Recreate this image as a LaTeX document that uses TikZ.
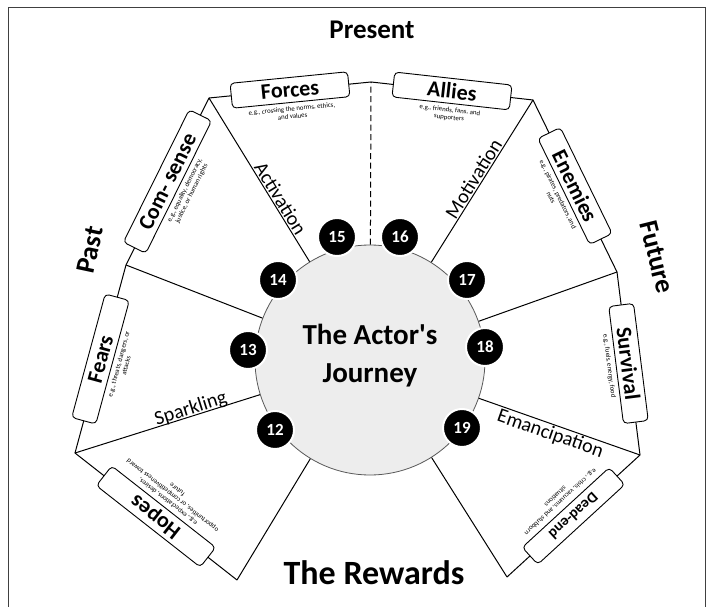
\documentclass[tikz,border=0pt]{standalone}
\usepackage{fontspec}
\setmainfont{Carlito}[Ligatures=TeXOff]
\usetikzlibrary{calc}
\begin{document}
\begin{tikzpicture}[x=1pt,y=1pt,
  edge/.style={line width=1pt, draw=black},
  labelbox/.style={draw=black, line width=0.9pt, fill=white, rounded corners=4pt,
    minimum width=118pt, minimum height=25pt, inner sep=2pt,
    font=\fontsize{22}{24}\selectfont\bfseries, sloped, allow upside down, pos=0.5},
  subtext/.style={anchor=north, outer ysep=16pt, inner sep=0.5pt, align=center,
    font=\fontsize{6.8}{7.6}\selectfont, sloped, allow upside down, pos=0.5},
  radlabel/.style={font=\fontsize{20}{22}\selectfont, sloped, inner sep=1.5pt, text depth=0pt},
  badge/.style={circle, fill=black, draw=white, line width=2pt, minimum size=38pt,
    inner sep=0pt, text=white, font=\fontsize{17}{17}\selectfont\bfseries},
  title/.style={font=\fontsize{27}{29}\selectfont\bfseries},
  frame/.style={draw=black!75, line width=1pt}
]
\useasboundingbox (0,0) rectangle (712,606);
\fill[white] (0,0) rectangle (712,606);
\draw[frame] (8,-5) -- (8,598) -- (705,598) -- (705,-5);

% geometry
\coordinate (C) at (370,246);
\coordinate (V0) at (371,524);
\coordinate (V1) at (533,506);
\coordinate (V2) at (617,334);
\coordinate (V3) at (640,151);
\coordinate (V4) at (507,29);
\coordinate (V5) at (237,26);
\coordinate (V6) at (75,153);
\coordinate (V7) at (126,341);
\coordinate (V8) at (209,508);

% hub
\node[circle, fill=black!7, draw=black!65, line width=0.8pt, minimum size=230pt] (hub) at (C) {};

% radial lines
\draw[edge] (hub) -- (V1);
\draw[edge] (hub) -- (V2);
\draw[edge] (hub) -- (V3);
\draw[edge] (hub) -- (V4);
\draw[edge] (hub) -- (V5);
\draw[edge] (hub) -- (V6);
\draw[edge] (hub) -- (V7);
\draw[edge] (hub) -- (V8);
\draw[edge, dash pattern=on 6pt off 3.5pt] (hub) -- (V0);

% outer edges
\draw[edge] (V8) -- (V0) -- (V1) -- (V2) -- (V3) -- (V4);
\draw[edge] (V5) -- (V6) -- (V7) -- (V8);

% boxes on edges
\path (V8) -- node[labelbox] (forces) {Forces} (V0);
\path (V0) -- node[labelbox] (allies) {Allies} (V1);
\path (V1) -- node[labelbox] (enemies) {Enemies} (V2);
\path (V2) -- node[labelbox] (survival) {Survival} (V3);
\path (V3) -- node[labelbox, minimum height=23pt, font=\fontsize{15}{17}\selectfont\bfseries] (deadend) {Dead-end} (V4);
\path (V5) -- node[labelbox, minimum width=132pt] (hopes) {Hopes} (V6);
\path (V6) -- node[labelbox, minimum width=128pt] (fears) {Fears} (V7);
\path (V7) -- node[labelbox, minimum width=148pt] (comsense) {Com- sense} (V8);

% sub texts
\path (V8) -- node[subtext] (forcesnote) {e.g., crossing the norms, ethics,\\and values} (V0);
\path (V0) -- node[subtext] (alliesnote) {e.g., friends, fans, and\\supporters} (V1);
\path (V1) -- node[subtext] (enemiesnote) {e.g., pirates, predators, and\\nuts} (V2);
\path (V2) -- node[subtext] (survivalnote) {e.g., fuels, energy, food} (V3);
\path (V3) -- node[subtext] (deadendnote) {e.g., crisis, vacuums, and stubborn\\situations} (V4);
\path (V5) -- node[subtext] (hopesnote) {e.g., expectations, desires,\\opportunities, or competitiveness toward\\future} (V6);
\path (V6) -- node[subtext] (fearsnote) {e.g., threats, dangers, or\\attacks} (V7);
\path (V7) -- node[subtext] (comsensenote) {e.g., equality, democracy,\\justice, or human rights} (V8);

% radial labels
\path (V8) -- node[radlabel, pos=0.40, anchor=south] (activation) {Activation} (C);
\path (C) -- node[radlabel, pos=0.68, anchor=south] (motivation) {Motivation} (V1);
\path (V6) -- node[radlabel, pos=0.40, anchor=south] (sparkling) {Sparkling} (C);
\path (C) -- node[radlabel, pos=0.68, anchor=north] (emancipation) {Emancipation} (V3);

% hub title
\node[font=\fontsize{29}{38}\selectfont\bfseries, align=center] (journey) at (370,250) {The Actor's\\Journey};

% badges
\node[badge] (b15) at (337,369) {15};
\node[badge] (b16) at (400,369) {16};
\node[badge] (b14) at (278,326) {14};
\node[badge] (b17) at (467,326) {17};
\node[badge] (b13) at (248,256) {13};
\node[badge] (b18) at (485,259) {18};
\node[badge] (b12) at (275,176) {12};
\node[badge] (b19) at (462,178) {19};

% titles
\node[title] (present) at (372,576) {Present};
\node[title, rotate=78] (past) at (90,356) {Past};
\node[title, rotate=-76] (future) at (657,349) {Future};
\node[font=\fontsize{34}{36}\selectfont\bfseries] (rewards) at (374,33) {The Rewards};
\end{tikzpicture}
\end{document}
